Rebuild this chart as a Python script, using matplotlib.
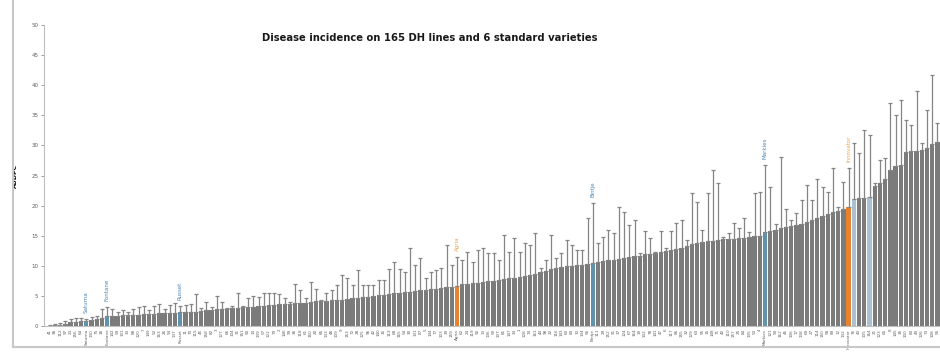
import numpy as np
import matplotlib
matplotlib.use('Agg')
from matplotlib import pyplot as plt
from matplotlib.lines import Line2D

# ~~~~~~~~~~~~~~ data ~~~~~~~~~~~~~~
# mean AUDPC per entry, sorted low -> high
audpc = [0.05, 0.1, 0.2, 0.4, 0.6, 0.7, 0.8, 0.9, 1.0, 1.1,
         1.3, 1.6, 1.7, 1.7, 1.8, 1.8, 1.9, 1.9, 2.0, 2.0,
         2.0, 2.1, 2.1, 2.2, 2.2, 2.3, 2.3, 2.4, 2.4, 2.5,
         2.6, 2.7, 2.8, 2.8, 2.9, 3.0, 3.0, 3.1, 3.2, 3.2,
         3.3, 3.4, 3.5, 3.5, 3.6, 3.7, 3.7, 3.8, 3.9, 3.9,
         4.0, 4.1, 4.1, 4.2, 4.3, 4.3, 4.4, 4.5, 4.6, 4.7,
         4.8, 4.9, 5.0, 5.1, 5.2, 5.3, 5.4, 5.5, 5.6, 5.7,
         5.8, 5.9, 6.0, 6.1, 6.2, 6.3, 6.4, 6.5, 6.7, 6.9,
         7.0, 7.1, 7.2, 7.3, 7.4, 7.5, 7.6, 7.8, 7.9, 8.0,
         8.1, 8.3, 8.5, 8.7, 9.0, 9.2, 9.4, 9.6, 9.8, 9.9,
         10.0, 10.1, 10.2, 10.3, 10.5, 10.6, 10.8, 10.9, 11.0, 11.1,
         11.3, 11.4, 11.6, 11.7, 11.9, 12.0, 12.2, 12.3, 12.5, 12.6,
         12.8, 13.0, 13.3, 13.6, 13.8, 14.0, 14.1, 14.2, 14.3, 14.4,
         14.5, 14.5, 14.6, 14.7, 14.8, 14.9, 15.0, 15.6, 15.8, 16.0,
         16.2, 16.4, 16.6, 16.8, 17.0, 17.3, 17.6, 18.0, 18.3, 18.6,
         18.9, 19.1, 19.4, 19.8, 21.1, 21.2, 21.3, 21.4, 23.3, 23.8,
         24.5, 25.9, 26.5, 26.8, 28.9, 29.0, 29.1, 29.3, 29.5, 30.3,
         30.6]

# upper end of each error bar
err_top = [0.2, 0.4, 0.5, 0.9, 1.2, 1.3, 1.4, 1.2, 1.5, 1.6,
           2.9, 3.1, 2.9, 2.3, 2.6, 2.4, 2.9, 3.1, 3.4, 2.7,
           3.4, 3.7, 2.9, 3.5, 3.9, 3.3, 3.5, 3.6, 5.3, 3.0,
           4.0, 3.2, 5.0, 4.0, 3.0, 3.4, 5.5, 3.4, 4.6, 5.0,
           4.9, 5.4, 5.4, 5.4, 5.3, 4.6, 4.0, 6.9, 6.0, 4.6,
           7.3, 6.1, 4.3, 5.5, 6.0, 6.8, 8.4, 7.9, 6.8, 9.3,
           6.8, 6.8, 6.8, 7.6, 7.6, 9.5, 10.6, 9.5, 9.0, 12.9,
           10.1, 11.3, 8.0, 9.0, 9.3, 9.6, 13.5, 10.1, 11.5, 11.0,
           12.3, 10.7, 12.6, 12.9, 12.1, 12.1, 11.0, 15.1, 12.3, 14.6,
           12.3, 13.8, 13.5, 15.4, 9.6, 11.0, 15.1, 11.3, 12.1, 14.3,
           13.5, 12.6, 12.6, 17.9, 20.4, 13.8, 14.8, 16.0, 15.4, 19.8,
           19.0, 16.8, 17.6, 12.1, 15.7, 14.6, 12.3, 15.7, 12.9, 15.7,
           17.1, 17.6, 14.3, 22.1, 20.6, 16.0, 22.1, 25.9, 23.7, 14.8,
           15.5, 17.1, 16.3, 17.9, 15.6, 22.1, 22.3, 26.7, 23.1, 17.0,
           28.1, 19.5, 17.6, 18.8, 21.0, 23.4, 21.0, 24.5, 23.1, 22.3,
           26.2, 19.8, 24.0, 26.2, 30.4, 28.7, 32.6, 31.7, 23.7, 27.6,
           27.9, 37.0, 35.0, 37.5, 34.2, 33.4, 39.0, 30.4, 35.8, 41.7,
           33.7]

# DH line numbers (x tick labels), standard varieties are put in below
dh_ids = ['41', '38', '112', '97', '23', '156', '64', '130', '75', '18',
          '142', '59', '101', '33', '88', '120', '7', '149', '52', '163',
          '26', '94', '137', '11', '70', '115', '45', '158', '82', '3',
          '127', '66', '104', '31', '151', '90', '14', '139', '57', '122',
          '79', '2', '146', '99', '36', '118', '61', '160', '20', '85',
          '133', '48', '109', '9', '153', '72', '28', '125', '96', '42',
          '140', '16', '113', '68', '165', '54', '30', '131', '87', '5',
          '144', '77', '103', '39', '159', '62', '24', '119', '92', '13',
          '136', '50', '107', '81', '147', '34', '1', '128', '74', '161',
          '44', '98', '22', '116', '143', '60', '83', '10', '134', '56',
          '111', '29', '152', '91', '37', '124', '67', '164', '19', '102',
          '78', '141', '47', '6', '117', '86', '155', '32', '129', '63',
          '95', '15', '148', '71', '40', '110', '157', '25', '84', '135',
          '53', '4', '121', '93', '162', '46', '106', '17', '138', '69',
          '27', '114', '150', '58', '89', '12', '132', '76', '43', '105',
          '154', '21', '123', '65', '8', '145', '35', '100', '80', '49',
          '126', '73', '108', '55']

variety_pos = [7, 11, 25, 78, 104, 137, 153]
variety_names = ['Saturna', 'Fontane', 'Russet', 'Agria', 'Bintje', 'Markies', 'Innovator']
variety_kind = ['blue', 'blue', 'blue', 'orange', 'blue', 'blue', 'orange']
light_pos = [154, 157]   # pale blue bars next to the orange one

title = 'Disease incidence on 165 DH lines and 6 standard varieties'

# ~~~~~~~~~~~~~~ build colours / labels ~~~~~~~~~~~~~~
grey = '#7b7b7b'
blue = '#5f93ad'
orange = '#e8822e'
cols = {'blue': blue, 'orange': orange}
txt_cols = {'blue': '#4d86b3', 'orange': '#f0a04b'}

n = len(audpc)
x = np.arange(n)
colors = [grey] * n
labels = []
ids = iter(dh_ids)
for i in range(n):
    if i in variety_pos:
        labels.append(variety_names[variety_pos.index(i)])
    else:
        labels.append(next(ids, ''))
for p, k in zip(variety_pos, variety_kind):
    colors[p] = cols[k]
for p in light_pos:
    colors[p] = '#a9c1d3'

sd = np.array(err_top) - np.array(audpc)

# ~~~~~~~~~~~~~~ plot ~~~~~~~~~~~~~~
fig = plt.figure(figsize=(9.4, 3.56), dpi=100)
ax = fig.add_axes([44 / 940, 30 / 356, 896 / 940, 301 / 356])

ax.bar(x, audpc, width=0.82, color=colors, edgecolor='none',
       yerr=[np.zeros(n), sd], error_kw=dict(ecolor='#858585', elinewidth=0.9,
                                              capsize=1.3, capthick=0.9))

# variety names above the error bars
for p, nm, k in zip(variety_pos, variety_names, variety_kind):
    ax.text(p, err_top[p] + 1.0, nm, rotation=90, ha='center', va='bottom',
            fontsize=4, color=txt_cols[k])

ax.set_xlim(-1.1, n - 0.5)
ax.set_ylim(0, 50)
ax.set_yticks(np.arange(0, 51, 5))
ax.tick_params(axis='y', labelsize=4, colors='#8c8c8c', length=2, width=0.6, pad=2,
               labelcolor='#606060')
ax.set_xticks(x)
ax.set_xticklabels(labels, rotation=90, fontsize=3, color='#606060')
ax.tick_params(axis='x', length=0, pad=2)
ax.set_ylabel('AUDPC', fontsize=4.5, fontweight='bold')
ax.yaxis.set_label_coords(-26 / 896, 0.5)

for s in ['top', 'right']:
    ax.spines[s].set_visible(False)
ax.spines['left'].set_color('#bfbfbf')
ax.spines['bottom'].set_color('#bfbfbf')
ax.spines['left'].set_linewidth(0.8)
ax.spines['bottom'].set_linewidth(0.8)

fig.text(430 / 940, 1 - 38 / 356, title, ha='center', va='center',
         fontsize=7.2, fontweight='bold', color='#1a1a1a')

# chart-area frame (left and bottom edges visible in the crop)
fig.add_artist(Line2D([13 / 940, 13 / 940], [1.0, 1 - 347 / 356], color='#c8c8c8', lw=1.5))
fig.add_artist(Line2D([13 / 940, 1.0], [1 - 347 / 356, 1 - 347 / 356], color='#c8c8c8', lw=1.5))

fig.savefig('out.png', dpi=100)
